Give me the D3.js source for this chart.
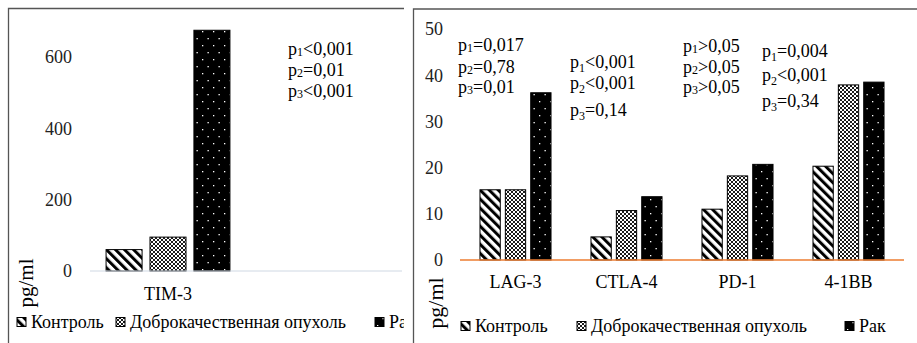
<!DOCTYPE html>
<html>
<head>
<meta charset="utf-8">
<script src="https://cdn.jsdelivr.net/npm/d3@7"></script>
<style>
  html, body { margin: 0; padding: 0; background: #fff; }
  svg { display: block; }
</style>
</head>
<body>
<svg id="chart" width="917" height="343"></svg>
<script>
// series
var seriesNames = ["Контроль", "Доброкачественная опухоль", "Рак"];
var seriesFills = ["url(#stripe)", "url(#hatch)", "url(#dots)"];

// left panel: TIM-3
var timCategories = ["TIM-3"];
var timControl = [60];
var timBenign = [95];
var timCancer = [675];
var timTicks = [0, 200, 400, 600];
var timP = [["p1<0,001", "p2=0,01", "p3<0,001"]];

// right panel
var categories = ["LAG-3", "CTLA-4", "PD-1", "4-1BB"];
var control = [15.2, 5.0, 11.0, 20.3];
var benign = [15.2, 10.7, 18.2, 37.9];
var cancer = [36.2, 13.7, 20.7, 38.5];
var ticks = [0, 10, 20, 30, 40, 50];
var pValues = [
    ["p1=0,017", "p2=0,78", "p3=0,01"],
    ["p1<0,001", "p2<0,001", "p3=0,14"],
    ["p1>0,05", "p2>0,05", "p3>0,05"],
    ["p1=0,004", "p2<0,001", "p3=0,34"]
];

var FONT = "Liberation Serif";
var svg = d3.select("#chart");

// patterns
var defs = svg.append("defs");
var stripe = defs.append("pattern").attr("id", "stripe").attr("patternUnits", "userSpaceOnUse")
    .attr("width", 6.4).attr("height", 6.4).attr("patternTransform", "rotate(-45)");
stripe.append("rect").attr("width", 6.4).attr("height", 6.4).attr("fill", "#fff");
stripe.append("rect").attr("width", 3).attr("height", 6.4).attr("fill", "#000");

var hatch = defs.append("pattern").attr("id", "hatch").attr("patternUnits", "userSpaceOnUse")
    .attr("width", 4).attr("height", 4);
hatch.append("rect").attr("width", 4).attr("height", 4).attr("fill", "#fff");
hatch.append("path").attr("d", "M0,0L4,4M4,0L0,4").attr("stroke", "#000").attr("stroke-width", 0.9);

var dots = defs.append("pattern").attr("id", "dots").attr("patternUnits", "userSpaceOnUse")
    .attr("width", 11).attr("height", 14);
dots.append("rect").attr("width", 11).attr("height", 14).attr("fill", "#000");
dots.append("rect").attr("x", 2).attr("y", 3).attr("width", 1.3).attr("height", 1.3).attr("fill", "#fff");
dots.append("rect").attr("x", 7.5).attr("y", 10).attr("width", 1.3).attr("height", 1.3).attr("fill", "#fff");

var BarPanel = (function () {
    function BarPanel(config) {
        this.config = config;
        this.g = svg.append("g");
    }
    BarPanel.prototype.render = function () {
        var c = this.config, g = this.g;

        // frame
        g.append("path").attr("d", c.frame).attr("fill", "none")
            .attr("stroke", "#555").attr("stroke-width", 1.3);

        var x = d3.scaleBand().domain(c.categories).range(c.xRange);
        var inner = d3.scaleBand().domain(seriesNames)
            .range([x.bandwidth() * c.groupPad, x.bandwidth() * (1 - c.groupPad)])
            .paddingInner(c.barGap);
        var y = d3.scaleLinear().domain(c.yDomain).range(c.yRange);

        // y tick labels
        g.selectAll(".ytick").data(c.ticks).enter().append("text")
            .attr("font-family", FONT)
            .attr("x", c.tickX).attr("y", function (d) { return y(d); })
            .attr("dy", "0.35em").attr("text-anchor", "end")
            .attr("font-size", 18).attr("fill", "#222").text(function (d) { return d; });

        // bars
        var series = c.series;
        var groups = g.selectAll(".grp").data(c.categories).enter().append("g")
            .attr("transform", function (d) { return "translate(" + x(d) + ",0)"; });
        groups.selectAll("rect").data(function (d, i) {
            return series.map(function (s, k) { return { name: seriesNames[k], value: s[i], k: k }; });
        }).enter().append("rect")
            .attr("x", function (d) { return inner(d.name); })
            .attr("width", inner.bandwidth())
            .attr("y", function (d) { return y(d.value); })
            .attr("height", function (d) { return y(0) - y(d.value); })
            .attr("fill", function (d) { return seriesFills[d.k]; })
            .attr("stroke", "#000").attr("stroke-width", 1);

        // zero line
        g.append("line").attr("x1", c.xRange[0]).attr("x2", c.lineEnd)
            .attr("y1", y(0)).attr("y2", y(0))
            .attr("stroke", c.lineColor).attr("stroke-width", c.lineWidth);

        // category labels
        g.selectAll(".xlab").data(c.categories).enter().append("text")
            .attr("font-family", FONT)
            .attr("x", function (d) { return x(d) + x.bandwidth() / 2; })
            .attr("y", c.labelY).attr("text-anchor", "middle").attr("font-size", 18)
            .text(function (d) { return d; });

        // p-values
        c.pBlocks.forEach(function (b, i) {
            c.pText[i].forEach(function (line, j) {
                var t = g.append("text").attr("font-family", FONT)
                    .attr("x", b.x).attr("y", b.lines[j]).attr("font-size", 18);
                t.append("tspan").text(line.charAt(0));
                t.append("tspan").attr("font-size", 12).attr("dy", b.drop).text(line.charAt(1));
                t.append("tspan").attr("dy", -b.drop).text(line.slice(2));
            });
        });

        // axis title
        g.append("text").attr("font-family", FONT)
            .attr("transform", "translate(" + c.titleX + "," + c.titleY + ") rotate(-90)")
            .attr("text-anchor", "middle").attr("dy", "0.35em").attr("font-size", c.titleSize).text("pg/ml");

        // legend
        var lg = g.selectAll(".leg").data(seriesNames).enter().append("g")
            .attr("transform", function (d, i) { return "translate(" + c.legendX[i] + "," + c.legendY + ")"; });
        lg.append("rect").attr("x", 0).attr("y", -4.5).attr("width", 9).attr("height", 9)
            .attr("fill", function (d, i) { return seriesFills[i]; })
            .attr("stroke", "#000").attr("stroke-width", 1);
        lg.append("text").attr("font-family", FONT)
            .attr("x", c.legendTextDx).attr("dy", "0.35em").attr("font-size", 18)
            .text(function (d) { return d; });
    };
    return BarPanel;
})();

// left panel clipped at its frame
var clip = defs.append("clipPath").attr("id", "leftClip");
clip.append("rect").attr("x", 0).attr("y", 0).attr("width", 404).attr("height", 343);

var left = new BarPanel({
    frame: "M405,345V8.5H8.5V345",
    categories: timCategories,
    series: [timControl, timBenign, timCancer],
    xRange: [90, 246], groupPad: 0.103, barGap: 0.18,
    yDomain: [0, 600], yRange: [271, 57], ticks: timTicks, tickX: 72,
    lineEnd: 402, lineColor: "#cfd8e3", lineWidth: 1,
    labelY: 300,
    pBlocks: [{ x: 288, lines: [55, 76, 97], drop: 1 }], pText: timP,
    titleX: 26, titleY: 283, titleSize: 21,
    legendX: [17, 116, 375], legendY: 322, legendTextDx: 14
});
left.g.attr("clip-path", "url(#leftClip)");
left.render();

var right = new BarPanel({
    frame: "M413.5,345V9H920",
    categories: categories,
    series: [control, benign, cancer],
    xRange: [460, 904], groupPad: 0.18, barGap: 0.2,
    yDomain: [0, 50], yRange: [260, 29], ticks: ticks, tickX: 443,
    lineEnd: 904, lineColor: "#ed7d31", lineWidth: 1.5,
    labelY: 288,
    pBlocks: [
        { x: 458, lines: [51, 73, 93], drop: 1 },
        { x: 570, lines: [68, 89, 116], drop: 4 },
        { x: 683, lines: [52, 73, 93], drop: 1 },
        { x: 762, lines: [57, 81, 107], drop: 4 }
    ],
    pText: pValues,
    titleX: 435, titleY: 303, titleSize: 22,
    legendX: [461, 577, 845], legendY: 326, legendTextDx: 14
});
right.render();
</script>
</body>
</html>
